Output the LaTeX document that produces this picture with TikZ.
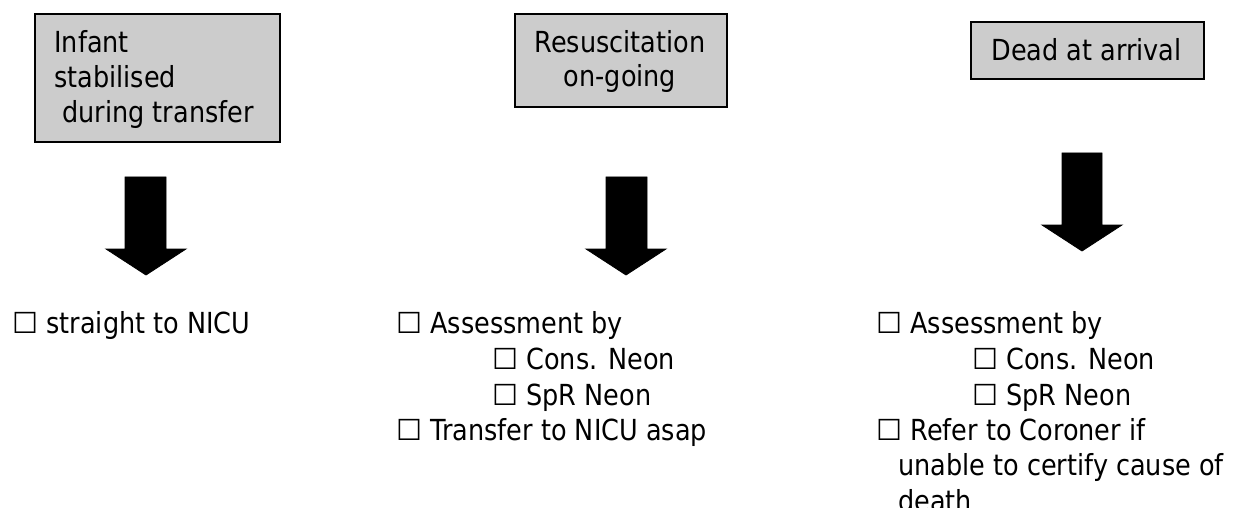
\documentclass[tikz,border=0pt]{standalone}
\usepackage{fontspec}
\setmainfont{DejaVu Sans}[FakeStretch=0.88]
\newfontfamily\boxfont{DejaVu Sans}
\newcommand{\cb}{{\boxfont ☐}}
\begin{document}
\begin{tikzpicture}[x=0.5pt,y=-0.5pt,
  every node/.style={inner sep=0pt, font=\fontsize{14.5}{17}\selectfont},
  txt/.style={anchor=base west},
  ctxt/.style={anchor=base},
  gbox/.style={draw=black, line width=0.8pt, fill=black!20, anchor=north west},
  blk/.style={fill=black, draw=black, line width=0.4pt, line join=miter}]
\useasboundingbox (0,0) rectangle (1243,508);

% boxes
\node[gbox, minimum width=122.5pt, minimum height=64pt] (b1) at (34,13) {};
\node[gbox, minimum width=106pt, minimum height=46.5pt] (b2) at (514,13) {};
\node[gbox, minimum width=116.5pt, minimum height=28.5pt] (b3) at (970,21) {};

\node[txt] (b1l1) at (54,53) {Infant};
\node[txt] (b1l2) at (54,88) {stabilised};
\node[txt] (b1l3) at (54,123) {\ during transfer};

\node[ctxt] (b2l1) at (620,53) {Resuscitation};
\node[ctxt] (b2l2) at (620,87) {on-going};

\node[ctxt] (b3l1) at (1086.5,61) {Dead at arrival};

% block arrows
\path[blk] (125,177) -- (166,177) -- (166,249) -- (186,249) -- (146,275) -- (106,249) -- (125,249) -- cycle;
\path[blk] (606,177) -- (647,177) -- (647,249) -- (666,249) -- (626,275) -- (586,249) -- (606,249) -- cycle;
\path[blk] (1062,153) -- (1102,153) -- (1102,225) -- (1122,225) -- (1082,251) -- (1042,225) -- (1062,225) -- cycle;

% column 1
\node[txt] (c1a) at (12,333) {\cb{} straight to NICU};

% column 2
\node[txt] (c2a) at (396,333) {\cb{} Assessment by};
\node[txt] (c2b) at (492,369) {\cb{} Cons. Neon};
\node[txt] (c2c) at (492,405) {\cb{} SpR Neon};
\node[txt] (c2d) at (396,440) {\cb{} Transfer to NICU asap};

% column 3
\node[txt] (c3a) at (876,333) {\cb{} Assessment by};
\node[txt] (c3b) at (972,369) {\cb{} Cons. Neon};
\node[txt] (c3c) at (972,405) {\cb{} SpR Neon};
\node[txt] (c3d) at (876,440) {\cb{} Refer to Coroner if};
\node[txt] (c3e) at (898,475) {unable to certify cause of};
\node[txt] (c3f) at (898,511) {death};
\end{tikzpicture}
\end{document}
